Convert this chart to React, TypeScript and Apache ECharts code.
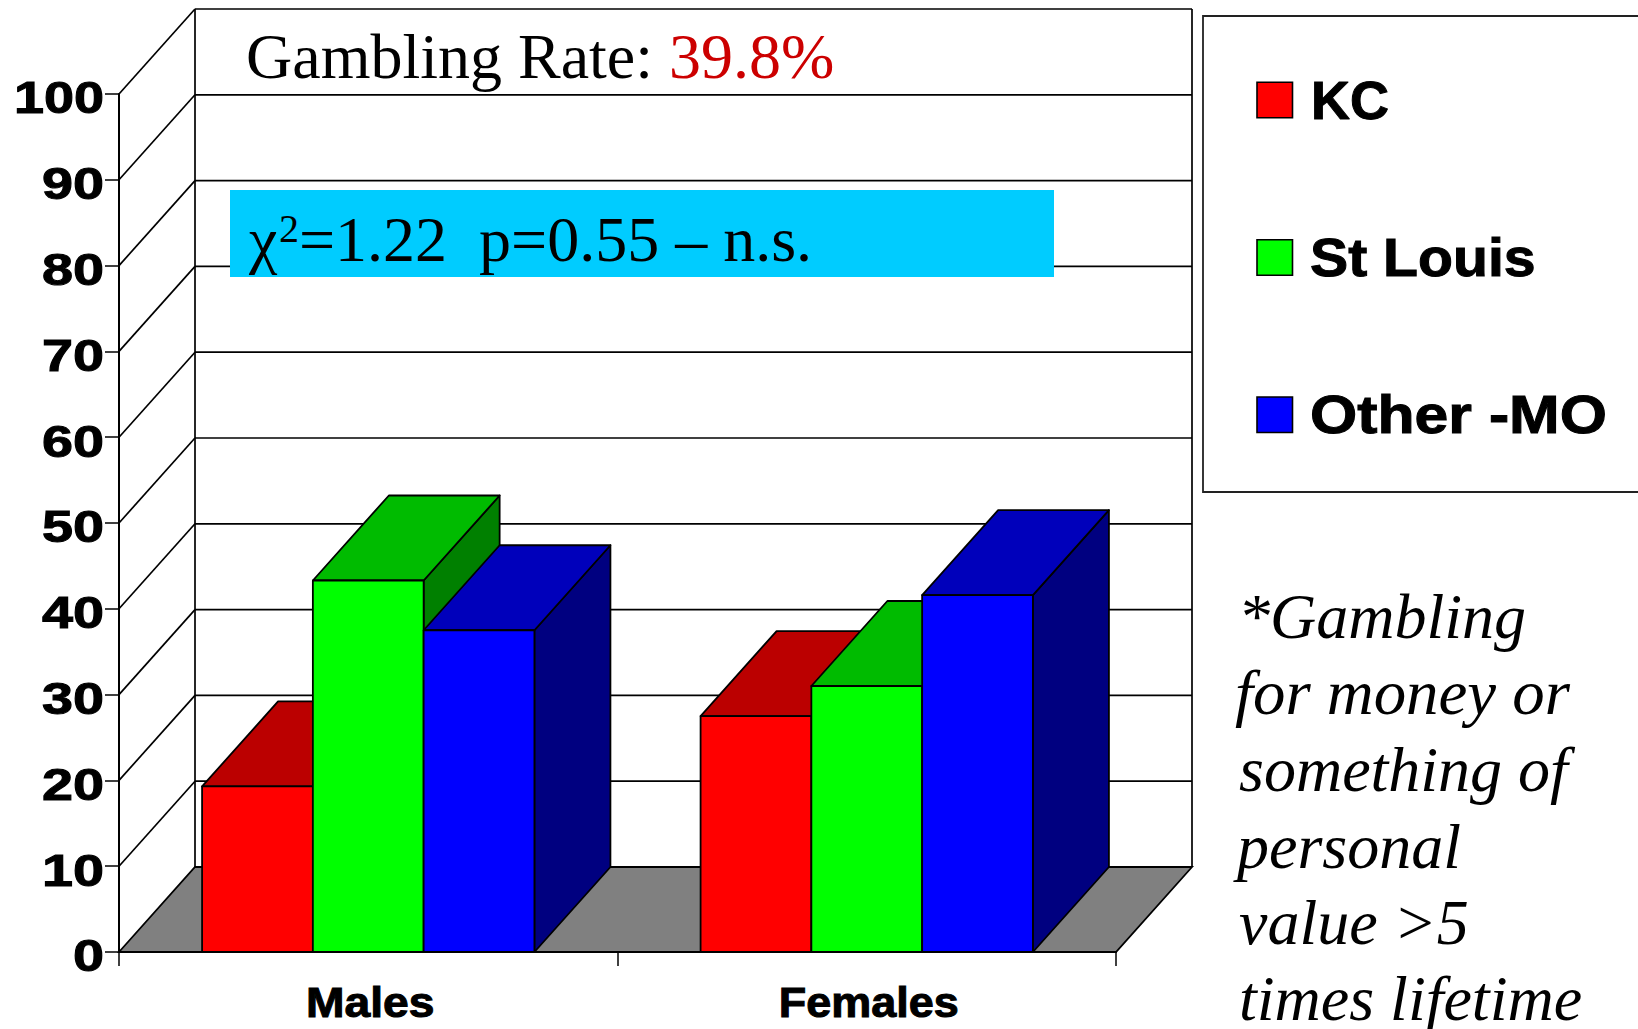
import React, { useEffect, useRef } from "react";
import * as echarts from "echarts";

const categories = ["Males", "Females"];
const seriesNames = ["KC", "St Louis", "Other -MO"];
const kcValues = [19.3, 27.5];
const stLouisValues = [43.3, 31.0];
const otherMoValues = [37.5, 41.6];
const tickValues = [0, 10, 20, 30, 40, 50, 60, 70, 80, 90, 100];
const footnoteLines = ["*Gambling", "for money or", "something of", "personal", "value >5", "times lifetime"];
const titleText = "Gambling Rate: ";
const titleRate = "39.8%";
const statText = "=1.22  p=0.55 – n.s.";

const frontColors = ["#ff0000", "#00ff00", "#0000ff"];
const topColors = ["#bb0000", "#00bb00", "#0000bb"];
const sideColors = ["#800000", "#008000", "#000080"];

const DEPTH_X = 76;
const DEPTH_Y = 85;
const SANS = '"Liberation Sans"';
const SERIF = '"Liberation Serif"';
const EDGE = { stroke: "#000", lineWidth: 1.8, lineJoin: "round" };

function txt(
  text: string,
  x: number,
  baseline: number,
  size: number,
  opts: { family?: string; weight?: string; italic?: boolean; fill?: string; align?: string; scaleX?: number; heavy?: number } = {}
) {
  const family = opts.family ?? SERIF;
  const font = `${opts.italic ? "italic " : ""}${opts.weight ?? "normal"} ${size}px ${family}`;
  const style: any = {
    text,
    x: 0,
    y: 0,
    font,
    fill: opts.fill ?? "#000",
    textAlign: opts.align ?? "left",
    textVerticalAlign: "middle",
  };
  if (opts.heavy) {
    style.stroke = opts.fill ?? "#000";
    style.lineWidth = opts.heavy;
  }
  return {
    type: "text",
    x,
    y: baseline - (family === SANS ? 0.3465 : 0.3375) * size,
    scaleX: opts.scaleX ?? 1,
    z: 20,
    style,
  };
}

function barRenderer(seriesIndex: number) {
  return (_p: any, api: any) => {
    const idx = api.value(0);
    const [cx, y0] = api.coord([idx, 0]);
    const [, y1] = api.coord([idx, api.value(1)]);
    const barW = api.size([1, 0])[0] / 4.5;
    const x0 = cx - 1.5 * barW + seriesIndex * barW;
    const x1 = x0 + barW;
    return {
      type: "group",
      children: [
        {
          type: "polygon",
          shape: { points: [[x1, y1], [x1 + DEPTH_X, y1 - DEPTH_Y], [x1 + DEPTH_X, y0 - DEPTH_Y], [x1, y0]] },
          style: { fill: sideColors[seriesIndex], ...EDGE },
        },
        {
          type: "polygon",
          shape: { points: [[x0, y1], [x0 + DEPTH_X, y1 - DEPTH_Y], [x1 + DEPTH_X, y1 - DEPTH_Y], [x1, y1]] },
          style: { fill: topColors[seriesIndex], ...EDGE },
        },
        {
          type: "rect",
          shape: { x: x0, y: y1, width: barW, height: y0 - y1 },
          style: { fill: frontColors[seriesIndex], ...EDGE },
        },
      ],
    };
  };
}

function wallRenderer(params: any, api: any) {
  const v = api.value(1);
  const g = params.coordSys;
  const y = api.coord([0, v])[1];
  const left = g.x;
  const right = g.x + g.width;
  const line = (x1: number, y1: number, x2: number, y2: number) => ({
    type: "line",
    shape: { x1, y1, x2, y2 },
    style: { stroke: "#000", lineWidth: 1.7 },
  });
  const children: any[] = [];
  if (v === 0) {
    children.push({
      type: "polygon",
      shape: {
        points: [[left, y], [right, y], [right + DEPTH_X, y - DEPTH_Y], [left + DEPTH_X, y - DEPTH_Y]],
      },
      style: { fill: "#808080", stroke: "#000", lineWidth: 1.8 },
    });
    const top = api.coord([0, 100])[1] - DEPTH_Y;
    children.push(line(left + DEPTH_X, y - DEPTH_Y, left + DEPTH_X, top));
    children.push(line(right + DEPTH_X, y - DEPTH_Y, right + DEPTH_X, top));
  } else {
    children.push(line(left, y, left + DEPTH_X, y - DEPTH_Y));
    children.push(line(left + DEPTH_X, y - DEPTH_Y, right + DEPTH_X, y - DEPTH_Y));
  }
  return { type: "group", children };
}

function yLabelRenderer(params: any, api: any) {
  const v = api.value(1);
  const y = api.coord([0, v])[1];
  return txt(String(v), params.coordSys.x - 15, y + 19.5, 45, {
    family: SANS,
    weight: "bold",
    align: "right",
    scaleX: v === 100 ? 1.2 : 1.24,
    heavy: 1,
  });
}

const xLabelScale = [1.1, 1.07];

function xLabelRenderer(_p: any, api: any) {
  const idx = api.value(0);
  const [cx, y0] = api.coord([idx, 0]);
  return txt(categories[idx], cx + 2, y0 + 65, 42, {
    family: SANS,
    weight: "bold",
    align: "center",
    scaleX: xLabelScale[idx],
    heavy: 1,
  });
}

export default function App() {
  const ref = useRef<HTMLDivElement>(null);
  useEffect(() => {
    document.body.style.margin = "0";
    document.body.style.overflow = "hidden";
    const chart = echarts.init(ref.current!, undefined, { renderer: "svg" });
    const valueSets = [kcValues, stLouisValues, otherMoValues];
    const legendTops = [82.3, 239.7, 397];
    const legendBaselines = [119, 276, 433];
    const legendTextX = [1311, 1310, 1310];
    const legendScale = [1.0, 1.06, 1.125];
    const footX = [1238, 1235, 1239, 1237, 1239, 1239];
    const footScale = [1, 1.013, 1, 1, 1, 1];
    const footBase = [638, 714, 791, 868, 944, 1020];
    const graphics: any[] = [
      {
        type: "rect",
        z: 15,
        shape: { x: 230, y: 190, width: 824, height: 87 },
        style: { fill: "#00ccff" },
      },
      txt(titleText, 246, 78, 64),
      txt(titleRate, 669, 78, 64, { fill: "#cc0000" }),
      txt("χ", 249, 261, 64),
      txt("2", 279, 241.5, 40),
      txt(statText, 299, 261, 64),
      {
        type: "rect",
        z: 15,
        shape: { x: 1203, y: 16, width: 600, height: 476 },
        style: { fill: "#fff", stroke: "#222", lineWidth: 1.8 },
      },
      ...seriesNames.flatMap((name, i) => [
        {
          type: "rect",
          z: 16,
          shape: { x: 1257, y: legendTops[i], width: 35.5, height: 35.5 },
          style: { fill: frontColors[i], stroke: "#000", lineWidth: 1.6 },
        },
        txt(name, legendTextX[i], legendBaselines[i], 54, { family: SANS, weight: "bold", scaleX: legendScale[i], heavy: 1 }),
      ]),
      ...footnoteLines.map((line, i) => txt(line, footX[i], footBase[i], 64, { italic: true, scaleX: footScale[i] })),
    ];
    chart.setOption({
      animation: false,
      backgroundColor: "#fff",
      grid: { left: 119, top: 94, width: 997, height: 858, containLabel: false },
      xAxis: {
        type: "category",
        data: categories,
        axisLine: { lineStyle: { color: "#000", width: 2 } },
        axisTick: { show: true, length: 14, lineStyle: { color: "#000", width: 1.5 } },
        axisLabel: { show: false },
        splitLine: { show: false },
      },
      yAxis: {
        type: "value",
        min: 0,
        max: 100,
        interval: 10,
        axisLine: { show: true, lineStyle: { color: "#000", width: 2 } },
        axisTick: { show: true, length: 14, lineStyle: { color: "#000", width: 1.5 } },
        axisLabel: { show: false },
        splitLine: { show: false },
      },
      series: [
        {
          type: "custom",
          name: "walls",
          z: 1,
          silent: true,
          clip: false,
          encode: { x: 0, y: 1 },
          data: tickValues.map((v) => [0, v]),
          renderItem: wallRenderer,
        },
        ...seriesNames.map((name, s) => ({
          type: "custom",
          name,
          z: 3 + s,
          clip: false,
          encode: { x: 0, y: 1 },
          data: valueSets[s].map((v, i) => [i, v]),
          renderItem: barRenderer(s),
        })),
        {
          type: "custom",
          name: "yLabels",
          z: 8,
          silent: true,
          clip: false,
          encode: { x: 0, y: 1 },
          data: tickValues.map((v) => [0, v]),
          renderItem: yLabelRenderer,
        },
        {
          type: "custom",
          name: "xLabels",
          z: 8,
          silent: true,
          clip: false,
          encode: { x: 0, y: 1 },
          data: categories.map((_c, i) => [i, 0]),
          renderItem: xLabelRenderer,
        },
      ],
      graphic: { elements: graphics },
    });
    return () => chart.dispose();
  }, []);
  return <div ref={ref} style={{ position: "fixed", left: 0, top: 0, width: 1638, height: 1029 }} />;
}
